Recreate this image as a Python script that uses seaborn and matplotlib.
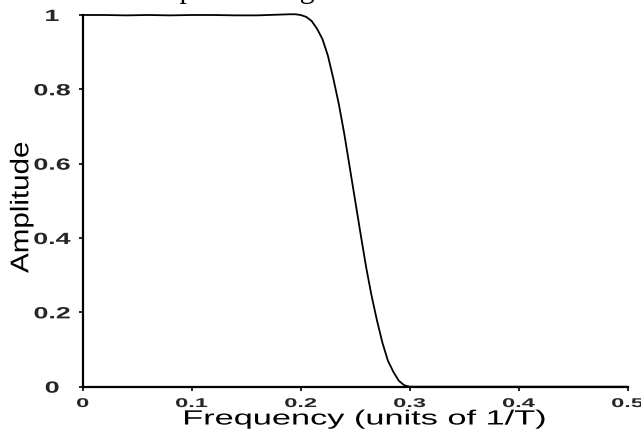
import matplotlib
matplotlib.use("Agg")
import matplotlib.pyplot as plt
import seaborn as sns
import pandas as pd
from matplotlib.patheffects import AbstractPathEffect
from matplotlib.transforms import Affine2D

# ---- data ----
freq = [0.0, 0.02, 0.04, 0.06, 0.08, 0.10, 0.12, 0.14, 0.16, 0.18, 0.19, 0.195,
        0.200, 0.205, 0.210, 0.215, 0.220, 0.225, 0.230, 0.235, 0.240, 0.245,
        0.250, 0.255, 0.260, 0.265, 0.270, 0.275, 0.280, 0.285, 0.290, 0.295,
        0.300, 0.35, 0.40, 0.45, 0.50]
amplitude = [1.000, 1.000, 0.999, 1.000, 0.999, 1.000, 1.000, 0.999, 0.999, 1.001, 1.002, 1.002,
             1.000, 0.995, 0.984, 0.963, 0.935, 0.890, 0.828, 0.760, 0.680, 0.590,
             0.500, 0.410, 0.322, 0.245, 0.178, 0.118, 0.070, 0.040, 0.016, 0.004,
             0.000, 0.000, 0.000, 0.000, 0.000]
x_ticks = [0.0, 0.1, 0.2, 0.3, 0.4, 0.5]
x_tick_labels = ["0", "0.1", "0.2", "0.3", "0.4", "0.5"]
y_ticks = [0.0, 0.2, 0.4, 0.6, 0.8, 1.0]
y_tick_labels = ["0", "0.2", "0.4", "0.6", "0.8", "1"]
title_text = "A pulse using raised cosine rolloff"
x_label = "Frequency (units of 1/T)"
y_label = "Amplitude"


class Stretch(AbstractPathEffect):
    """Scale rendered text glyphs about their centre (text stays a Text artist)."""
    def __init__(self, sx=1.0, sy=1.0):
        super().__init__()
        self.sx = sx
        self.sy = sy

    def draw_path(self, renderer, gc, tpath, affine, rgbFace=None):
        ext = tpath.get_extents(affine)
        cx = (ext.x0 + ext.x1) / 2.0
        cy = (ext.y0 + ext.y1) / 2.0
        st = Affine2D().translate(-cx, -cy).scale(self.sx, self.sy).translate(cx, cy)
        renderer.draw_path(gc, tpath, affine + st, rgbFace)


sns.set_theme(style="white")
plt.rcParams["font.family"] = ["Liberation Sans", "DejaVu Sans"]

df = pd.DataFrame({"freq": freq, "amp": amplitude})

W, H = 641, 433
fig = plt.figure(figsize=(W / 100, H / 100), dpi=100)
fig.patch.set_facecolor("white")
ax = fig.add_axes([82.7 / W, (H - 386.7) / H, 545.0 / W, 371.7 / H])
ax.set_facecolor("white")

sns.lineplot(data=df, x="freq", y="amp", ax=ax, color="black", linewidth=1.3,
             clip_on=False, zorder=3)

ax.set_xlim(0, 0.5)
ax.set_ylim(0, 1)
ax.set_xticks(x_ticks, labels=x_tick_labels)
ax.set_yticks(y_ticks, labels=y_tick_labels)

for side in ["top", "right"]:
    ax.spines[side].set_visible(False)
for side in ["left", "bottom"]:
    ax.spines[side].set_color("black")
    ax.spines[side].set_linewidth(1.6)

ax.tick_params(axis="x", direction="out", length=3, width=1.2, color="black",
               pad=4.0, labelsize=10, bottom=True)
ax.tick_params(axis="y", direction="out", length=3, width=1.2, color="black",
               pad=19.0, labelsize=11.7, left=True)

for lab in ax.get_xticklabels():
    lab.set_fontweight("bold")
    lab.set_path_effects([Stretch(1.7, 0.92)])
for lab in ax.get_yticklabels():
    lab.set_fontweight("bold")
    lab.set_ha("center")
    lab.set_path_effects([Stretch(1.65, 1.0)])

ax.set_xlabel(x_label, fontsize=14.8, color="black")
ax.xaxis.label.set_va("baseline")
ax.xaxis.set_label_coords((364.2 - 82.7) / 545.0, (386.7 - 424.5) / 371.7)
ax.xaxis.label.set_path_effects([Stretch(1.67, 1.0)])

ax.set_ylabel(y_label, fontsize=18.4, color="black")
ax.yaxis.label.set_va("baseline")
ax.yaxis.set_label_coords((28.3 - 82.7) / 545.0, (386.7 - 207.4) / 371.7)
ax.yaxis.label.set_path_effects([Stretch(1.0, 1.156)])

fig.text(356 / W, 1 + 1.5 / H, title_text, family="Liberation Serif",
         fontsize=21.5, ha="center", va="baseline", color="black")

fig.savefig("out.png", dpi=100, facecolor="white")
